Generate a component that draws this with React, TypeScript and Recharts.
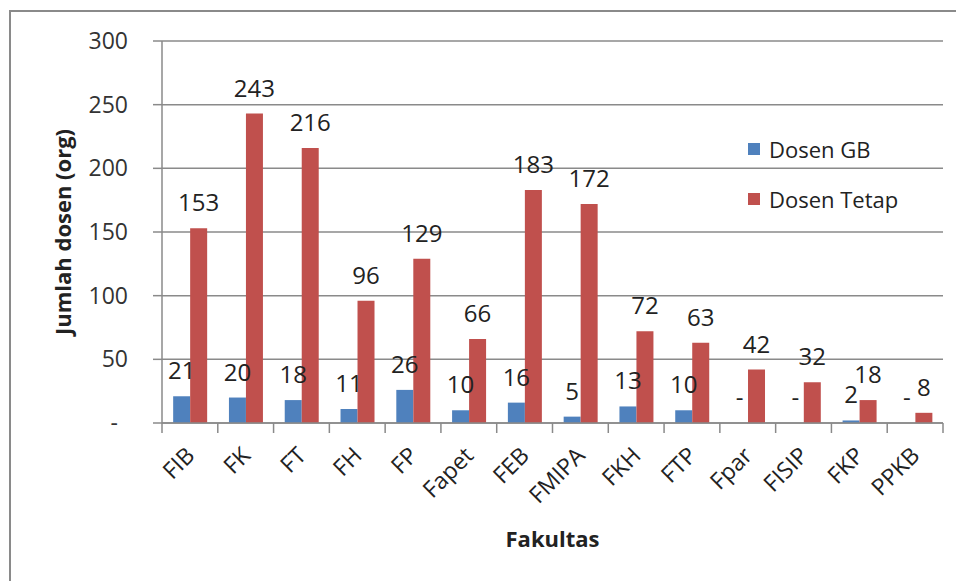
import React from "react";
import { Bar, BarChart, CartesianGrid, LabelList, XAxis, YAxis } from "recharts";

const fakultas = ["FIB", "FK", "FT", "FH", "FP", "Fapet", "FEB", "FMIPA", "FKH", "FTP", "Fpar", "FISIP", "FKP", "PPKB"];
const dosenGB = [21, 20, 18, 11, 26, 10, 16, 5, 13, 10, 0, 0, 2, 0];
const dosenTetap = [153, 243, 216, 96, 129, 66, 183, 172, 72, 63, 42, 32, 18, 8];
const yTicks = [0, 50, 100, 150, 200, 250, 300];

const data = fakultas.map((f, i) => ({ name: f, gb: dosenGB[i], tetap: dosenTetap[i] }));

const FONT = "'Open Sans', sans-serif";
const GRID = "#8a8a8a";
const BLUE = "#4f81bd";
const RED = "#c0504d";

const W = 956;
const H = 581;
const M = { top: 41, right: 13, left: 0, bottom: 0 };
const Y_W = 162;
const bandW = (W - M.right - Y_W) / fakultas.length;

const dash = (v: any) => (Number(v) === 0 ? "-" : String(v));

function YTick(props: any) {
  const { x, y, payload } = props;
  const zero = payload.value === 0;
  return (
    <text x={zero ? x - 10 : x} y={y} dy={8} textAnchor="end" fontFamily={FONT} fontSize={23} fill="#333">
      {dash(payload.value)}
    </text>
  );
}

function XTick(props: any) {
  const { x, y, payload, index } = props;
  const left = x - bandW / 2;
  const tx = x + 6;
  const ty = y + 26;
  return (
    <g>
      <line x1={left} y1={y - 8} x2={left} y2={y + 2} stroke={GRID} strokeWidth={1.5} />
      {index === fakultas.length - 1 && (
        <line x1={x + bandW / 2} y1={y - 8} x2={x + bandW / 2} y2={y + 2} stroke={GRID} strokeWidth={1.5} />
      )}
      <text x={tx} y={ty} textAnchor="end" fontFamily={FONT} fontSize={23} fill="#222" transform={`rotate(-45, ${tx}, ${ty})`}>
        {payload.value}
      </text>
    </g>
  );
}

function BarLabel(props: any) {
  const { x, y, width, value } = props;
  return (
    <text x={x + width / 2} y={y - 17} textAnchor="middle" fontFamily={FONT} fontSize={24} fill="#222">
      {dash(value)}
    </text>
  );
}

function LegendBox() {
  const items = [
    { label: "Dosen GB", color: BLUE },
    { label: "Dosen Tetap", color: RED },
  ];
  return (
    <div style={{ position: "absolute", left: 748, top: 134, fontFamily: FONT, fontSize: 22, color: "#222" }}>
      {items.map((it, i) => (
        <div key={it.label} style={{ display: "flex", alignItems: "center", height: 30, marginBottom: i === 0 ? 20 : 0 }}>
          <span style={{ width: 12, height: 12, background: it.color, display: "inline-block", marginRight: 9 }} />
          <span>{it.label}</span>
        </div>
      ))}
    </div>
  );
}

export default function App() {
  return (
    <div style={{ position: "absolute", left: 0, top: 0, width: W, height: H, background: "#fff", overflow: "hidden" }}>
      <div
        style={{
          position: "absolute",
          left: 9,
          top: 10,
          width: W,
          height: H,
          borderLeft: "2px solid #8a8a8a",
          borderTop: "2px solid #8a8a8a",
        }}
      />
      <BarChart
        width={W}
        height={H}
        data={data}
        margin={M}
        barCategoryGap="20%"
        barGap={0}
        style={{ position: "absolute", left: 0, top: 0 }}
      >
        <CartesianGrid vertical={false} stroke={GRID} strokeWidth={1.5} />
        <XAxis
          dataKey="name"
          height={158}
          interval={0}
          tick={<XTick />}
          tickLine={false}
          axisLine={{ stroke: GRID, strokeWidth: 1.5 }}
          label={{ value: "Fakultas", position: "insideBottom", offset: 34, fontFamily: FONT, fontSize: 22, fontWeight: 700, fill: "#222" }}
        />
        <YAxis
          width={Y_W}
          domain={[0, 300]}
          ticks={yTicks}
          interval={0}
          tick={<YTick />}
          tickSize={9}
          tickMargin={25}
          tickLine={{ stroke: GRID, strokeWidth: 1.5 }}
          axisLine={{ stroke: GRID, strokeWidth: 1.5 }}
          label={{ value: "Jumlah dosen (org)", angle: -90, position: "center", dx: -18, fontFamily: FONT, fontSize: 22, fontWeight: 700, fill: "#222" }}
        />
        <Bar dataKey="gb" name="Dosen GB" fill={BLUE} minPointSize={0.01} isAnimationActive={false}>
          <LabelList dataKey="gb" content={<BarLabel />} />
        </Bar>
        <Bar dataKey="tetap" name="Dosen Tetap" fill={RED} isAnimationActive={false}>
          <LabelList dataKey="tetap" content={<BarLabel />} />
        </Bar>
      </BarChart>
      <LegendBox />
    </div>
  );
}
